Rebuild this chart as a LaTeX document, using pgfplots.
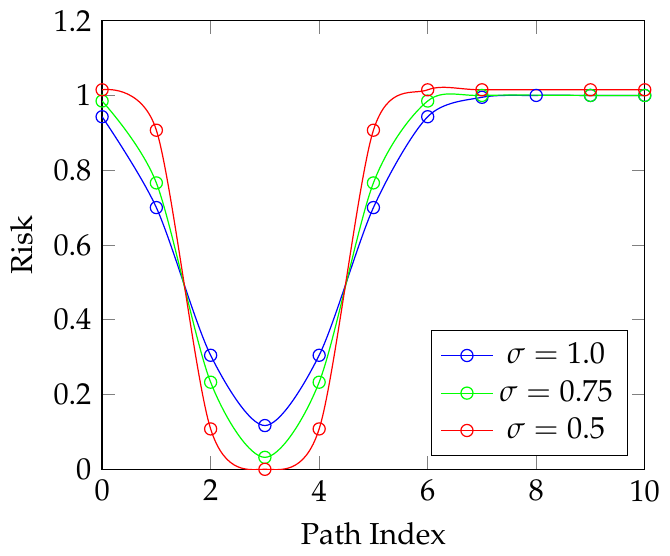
\documentclass[border=0pt]{standalone}
\usepackage[T1]{fontenc}
\usepackage{mathpazo}
\usepackage{pgfplots}
\pgfplotsset{compat=1.18}
\begin{document}
\begin{tikzpicture}
\begin{axis}[
  scale only axis,
  width=179pt, height=148pt,
  xmin=0, xmax=10, ymin=0, ymax=1.2,
  xtick={0,2,4,6,8,10},
  ytick={0,0.2,0.4,0.6,0.8,1,1.2},
  yticklabels={0,0.2,0.4,0.6,0.8,1,1.2},
  xlabel={Path Index}, ylabel={Risk},
  legend pos=south east,
  legend cell align=center,
]
\addplot[blue, mark=o, smooth] coordinates {
 (0,0.943) (1,0.700) (2,0.305) (3,0.117) (4,0.305) (5,0.700) (6,0.943) (7,0.995) (8,1.0) (9,1.0) (10,1.0)};
\addlegendentry{$\sigma=1.0$}
\addplot[green, mark=o, smooth] coordinates {
 (0,0.985) (1,0.766) (2,0.233) (3,0.032) (4,0.233) (5,0.766) (6,0.985) (7,1.0) (9,1.0) (10,1.0)};
\addlegendentry{$\sigma=0.75$}
\addplot[red, mark=o, smooth] coordinates {
 (0,1.015) (1,0.907) (2,0.108) (3,0.0) (4,0.108) (5,0.907) (6,1.015) (7,1.015) (9,1.015) (10,1.015)};
\addlegendentry{$\sigma=0.5$}
\end{axis}
\end{tikzpicture}
\end{document}
